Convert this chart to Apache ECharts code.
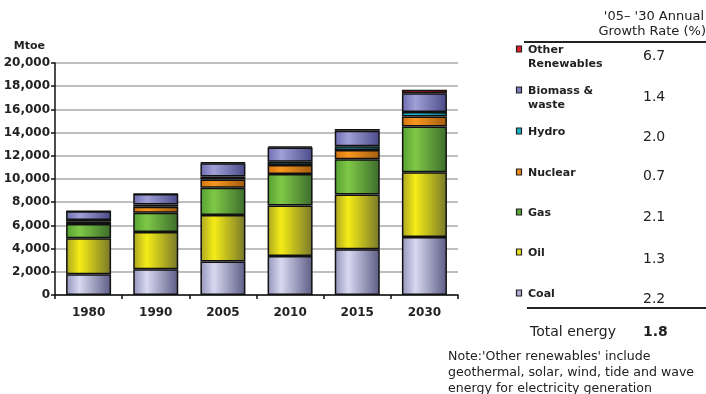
<!DOCTYPE html>
<html lang="en">
<head>
    <meta charset="UTF-8">
    <title>World primary energy demand</title>
    <style>
        html,body{ width:100%; height:100%; margin:0; padding:0; background:#fff; }
    </style>
</head>
<body>
<div id="main" style="width:706px;height:394px;"></div>
<script src="https://cdn.jsdelivr.net/npm/echarts@6/dist/echarts.min.js"></script>
<script>
    // data, Mtoe
    var years = ['1980', '1990', '2005', '2010', '2015', '2030'];
    var coal = [1786, 2216, 2892, 3354, 3940, 4994];
    var oil = [3106, 3216, 4000, 4367, 4721, 5585];
    var gas = [1237, 1654, 2354, 2720, 3044, 3948];
    var nuclear = [186, 525, 721, 764, 804, 854];
    var hydro = [147, 184, 251, 276, 317, 396];
    var biomass = [753, 903, 1149, 1233, 1324, 1615];
    var otherRen = [12, 36, 61, 102, 170, 308];

    // '05-'30 growth rate table, top to bottom
    var tableNames = ['Other\nRenewables', 'Biomass &\nwaste', 'Hydro', 'Nuclear', 'Gas', 'Oil', 'Coal'];
    var tableRates = ['6.7', '1.4', '2.0', '0.7', '2.1', '1.3', '2.2'];
    var totalRate = '1.8';

    var font = '"DejaVu Sans", Verdana, sans-serif';

    // left edge / highlight / right edge, for the cylinder look
    var shades = {
        coal: ['#9494bc', '#d8d8f0', '#5c5c86'],
        oil: ['#aaa424', '#f4ec16', '#77772a'],
        gas: ['#55a032', '#7fc846', '#3c6c2c'],
        nuclear: ['#d27512', '#f8961e', '#a35c10'],
        hydro: ['#119cac', '#22c4d4', '#0a7282'],
        biomass: ['#6c6cb2', '#a0a0d6', '#4a4a8a'],
        other: ['#c8181e', '#ee2a30', '#9a1015']
    };
    function grad(c) {
        return new echarts.graphic.LinearGradient(0, 0, 1, 0, [
            {offset: 0, color: c[0]},
            {offset: 0.3, color: c[1]},
            {offset: 1, color: c[2]}
        ]);
    }
    function bar(name, data, c) {
        return {
            name: name, type: 'bar', stack: 'total', data: data,
            barWidth: 45,
            itemStyle: {color: grad(c), borderColor: '#111', borderWidth: 1.5},
            emphasis: {disabled: true}
        };
    }

    var legendColors = ['#e02028', '#8080c0', '#18b4c4', '#f08a1c', '#5aa836', '#e8e020', '#b0b0d4'];
    var rowY = [49, 90, 131, 172, 212, 252, 293];
    var rateY = [56, 97, 137, 176, 217, 259, 299];

    var graphics = [
        {type: 'text', right: 2, top: 10, style: {text: "'05\u2013 '30 Annual", font: '13px ' + font, fill: '#222', align: 'right'}},
        {type: 'text', right: 0, top: 25, style: {text: 'Growth Rate (%)', font: '13px ' + font, fill: '#222', align: 'right'}},
        {type: 'line', shape: {x1: 524, y1: 42, x2: 706, y2: 42}, style: {stroke: '#222', lineWidth: 2}},
        {type: 'line', shape: {x1: 527, y1: 308, x2: 706, y2: 308}, style: {stroke: '#222', lineWidth: 2}},
        {type: 'text', x: 530, y: 332, style: {text: 'Total energy', font: '14px ' + font, fill: '#222', verticalAlign: 'middle'}},
        {type: 'text', x: 643, y: 332, style: {text: totalRate, font: 'bold 14px ' + font, fill: '#222', verticalAlign: 'middle'}},
        {type: 'text', x: 448, y: 349, style: {
            text: "Note:'Other renewables' include\ngeothermal, solar, wind, tide and wave\nenergy for electricity generation",
            font: '12.6px ' + font, fill: '#222', lineHeight: 16
        }}
    ];
    tableNames.forEach(function (n, i) {
        graphics.push({type: 'rect', shape: {x: 516.5, y: rowY[i] - 3, width: 5, height: 6},
            style: {fill: legendColors[i], stroke: '#222', lineWidth: 1.2}});
        graphics.push({type: 'text', x: 528, y: rowY[i] - 6,
            style: {text: n, font: 'bold 11px ' + font, fill: '#222', lineHeight: 14}});
        graphics.push({type: 'text', x: 643, y: rateY[i],
            style: {text: tableRates[i], font: '14px ' + font, fill: '#222', verticalAlign: 'middle'}});
    });

    var myChart = echarts.init(document.getElementById('main'));
    myChart.setOption({
        animation: false,
        grid: {left: 55, right: 248, top: 63, bottom: 99},
        xAxis: {
            type: 'category', data: years,
            axisLine: {lineStyle: {color: '#111', width: 1.5}},
            axisTick: {show: true, length: 4, lineStyle: {color: '#111', width: 1.5}},
            axisLabel: {color: '#222', fontFamily: font, fontWeight: 'bold', fontSize: 12, margin: 12}
        },
        yAxis: {
            type: 'value', min: 0, max: 20000, interval: 2000,
            name: 'Mtoe', nameLocation: 'end', nameGap: 11,
            nameTextStyle: {color: '#222', fontFamily: font, fontWeight: 'bold', fontSize: 11, align: 'right', padding: [0, 10, 0, 0]},
            axisLine: {show: true, lineStyle: {color: '#111', width: 1.5}},
            axisTick: {show: true, length: 4, lineStyle: {color: '#111', width: 1.5}},
            axisLabel: {color: '#222', fontFamily: font, fontWeight: 'bold', fontSize: 12, margin: 5,
                formatter: function (v) { return v.toLocaleString('en-US'); }},
            splitLine: {lineStyle: {color: '#aaa', width: 1.5}}
        },
        series: [
            bar('Coal', coal, shades.coal),
            bar('Oil', oil, shades.oil),
            bar('Gas', gas, shades.gas),
            bar('Nuclear', nuclear, shades.nuclear),
            bar('Hydro', hydro, shades.hydro),
            bar('Biomass & waste', biomass, shades.biomass),
            bar('Other Renewables', otherRen, shades.other)
        ],
        graphic: graphics
    });
</script>
</body>
</html>
